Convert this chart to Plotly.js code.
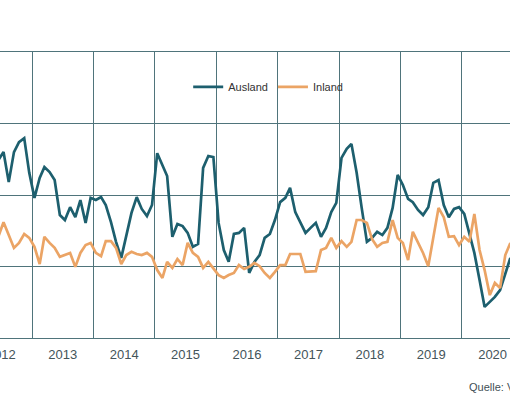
<!DOCTYPE html>
<html>
<head>
<meta charset="utf-8">
<script src="https://cdn.plot.ly/plotly-3.0.1.min.js"></script>
<style>
html,body{margin:0;padding:0;overflow:hidden;background:#fff;}
#chart{width:510px;height:395px;}
</style>
</head>
<body>
<div id="chart"></div>
<script>
// monthly series, first month June 2012
const startYear = 2012;
const startMonth = 6;
const seriesNames = ['Ausland', 'Inland'];
const ausland = [
  109.8, 112.0, 103.6, 112.0, 114.8, 115.9, 106.2,
  99.2, 104.8, 107.8, 106.4, 104.2, 94.4, 93.0, 96.6, 93.8, 98.6, 92.2, 99.2,
  98.6, 99.4, 97.2, 92.4, 86.9, 82.4, 88.3, 95.0, 99.4, 96.1, 94.1, 97.2,
  111.7, 108.4, 105.3, 88.3, 91.9, 91.3, 89.4, 85.5, 86.3, 107.6, 110.9, 110.6,
  92.2, 84.6, 81.3, 89.1, 89.4, 90.8, 78.2, 81.3, 83.2, 88.0, 89.1, 93.0,
  98.0, 99.2, 102.0, 95.2, 92.4, 89.4, 90.8, 92.2, 88.3, 90.8, 95.2, 97.8,
  110.4, 112.9, 114.3, 106.2, 96.4, 86.9, 88.0, 89.7, 88.8, 90.8, 96.4, 105.6,
  102.8, 98.9, 98.0, 95.8, 94.4, 96.6, 103.4, 104.2, 97.2, 93.8, 96.1, 96.6,
  94.7, 89.4, 83.8, 76.2, 68.7, 70.1, 71.5, 73.4, 78.2, 82.4
];
const inland = [
  88.5, 92.4, 88.8, 85.2, 86.6, 89.1, 88.0,
  85.5, 80.7, 88.3, 86.6, 85.2, 82.7, 83.2, 83.8, 79.9, 83.8, 86.0, 86.6,
  83.8, 82.9, 87.1, 87.1, 85.2, 80.7, 83.2, 84.1, 83.5, 83.2, 83.8, 82.7,
  79.0, 76.8, 81.3, 79.6, 82.1, 80.4, 86.6, 83.8, 82.7, 79.6, 81.3, 79.6,
  77.6, 76.8, 77.6, 78.2, 80.4, 79.3, 79.9, 81.0, 80.1, 78.2, 76.8, 78.5,
  80.4, 80.4, 83.5, 83.5, 83.5, 78.5, 78.7, 78.7, 84.6, 85.2, 88.0, 85.2,
  87.1, 85.5, 86.9, 93.0, 93.0, 92.2, 87.7, 85.5, 86.6, 86.9, 93.0, 88.0,
  86.6, 81.8, 89.7, 86.6, 83.8, 80.1, 88.3, 96.4, 93.8, 88.3, 88.5, 86.0,
  88.3, 86.9, 94.7, 84.6, 79.0, 72.0, 75.4, 74.0, 83.2, 86.6
];
const sourceText = 'Quelle: V';

const months = ausland.map((_, i) => {
  const t = startMonth - 1 + i;
  const y = startYear + Math.floor(t / 12);
  const m = (t % 12) + 1;
  return y + '-' + String(m).padStart(2, '0') + '-15';
});

const gridCol = '#4f747b';
const traces = [
  {x: months, y: ausland, name: seriesNames[0], type: 'scatter', mode: 'lines',
   line: {color: '#1d5f6e', width: 2.7}},
  {x: months, y: inland, name: seriesNames[1], type: 'scatter', mode: 'lines',
   line: {color: '#eba465', width: 2.7}}
];

const layout = {
  width: 510, height: 395,
  margin: {l: 0, r: 0, t: 52, b: 57, pad: 0},
  paper_bgcolor: '#ffffff', plot_bgcolor: '#ffffff',
  font: {family: 'Liberation Sans, Arial, sans-serif', color: '#3f4f55'},
  showlegend: true,
  legend: {orientation: 'h', x: 0.369, xanchor: 'left', y: 0.878, yanchor: 'middle',
           font: {size: 11, color: '#333333'}, bgcolor: 'rgba(0,0,0,0)'},
  xaxis: {
    type: 'date', range: ['2012-06-24', '2020-10-13'],
    dtick: 'M12', tick0: '2012-01-01', ticklabelmode: 'period', tickformat: '%Y',
    ticklabeloverflow: 'allow', ticklabelstandoff: 4,
    showgrid: true, gridcolor: gridCol, gridwidth: 1,
    showline: true, mirror: true, linecolor: gridCol, linewidth: 1.2,
    ticks: '', zeroline: false,
    tickfont: {size: 13, color: '#44545a'}
  },
  yaxis: {
    range: [60, 140], dtick: 20, tick0: 60,
    showgrid: true, gridcolor: gridCol, gridwidth: 1,
    showticklabels: false, zeroline: false, showline: false, ticks: ''
  },
  annotations: [{
    text: sourceText, xref: 'paper', yref: 'paper', x: 0.915, y: -0.171,
    xanchor: 'left', yanchor: 'middle', showarrow: false,
    font: {size: 11, color: '#3f4f55'}
  }]
};

Plotly.newPlot('chart', traces, layout, {staticPlot: true, displayModeBar: false});
</script>
</body>
</html>
